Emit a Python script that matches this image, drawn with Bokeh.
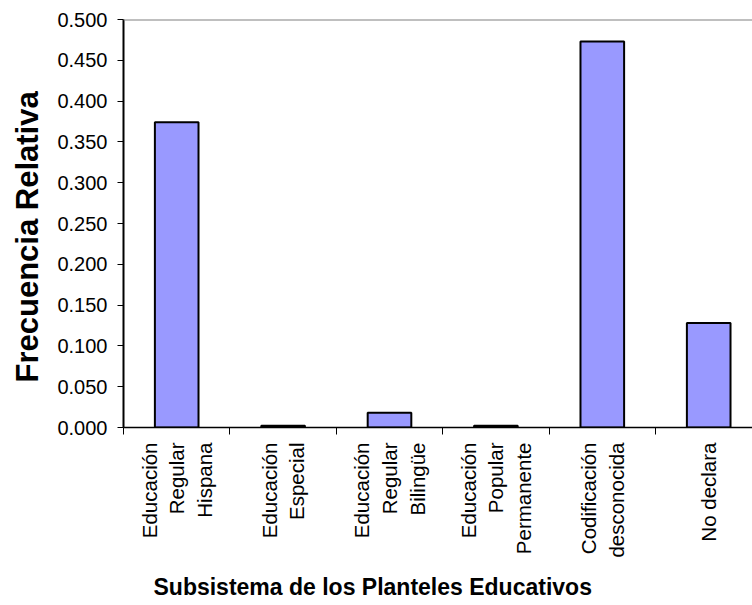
import math
from bokeh.plotting import figure
from bokeh.models import (ColumnDataSource, FixedTicker, NumeralTickFormatter,
                          Span, Title, Range1d, LinearAxis)
from bokeh.embed import file_html
from bokeh.resources import INLINE

# ---- data ----
categories = ["Educación\nRegular\nHispana", "Educación\nEspecial",
              "Educación\nRegular\nBilingüe", "Educación\nPopular\nPermanente",
              "Codificación\ndesconocida", "No declara"]
values = [0.374, 0.002, 0.018, 0.002, 0.473, 0.128]
y_ticks = [0.0, 0.05, 0.1, 0.15, 0.2, 0.25, 0.3, 0.35, 0.4, 0.45, 0.5]
y_label = "Frecuencia Relativa"
x_label = "Subsistema  de los Planteles Educativos"

positions = [i + 0.5 for i in range(len(categories))]
boundaries = [i for i in range(len(categories) + 1)]

W, H = 752, 605
frame_left, frame_top = 123, 19
frame_bottom = 427
slot_px = 106.4
y_max = 0.5
x_end = (W - frame_left) / slot_px

p = figure(width=W, height=H, output_backend="svg", toolbar_location=None,
           x_range=Range1d(0, x_end), y_range=Range1d(0, y_max),
           min_border_left=frame_left, min_border_right=0,
           min_border_top=frame_top, min_border_bottom=H - frame_bottom)
p.background_fill_color = "white"
p.border_fill_color = "white"
p.outline_line_color = None
p.grid.visible = False

src = ColumnDataSource(dict(x=positions, top=values))
p.vbar(x="x", top="top", width=0.41, bottom=0, source=src,
       fill_color="#9999FF", line_color="black", line_width=2)

p.add_layout(Span(location=y_max, dimension="width", line_color="#808080",
                  line_width=2))

font = "Liberation Sans"

# y axis
ya = p.yaxis[0]
ya.ticker = FixedTicker(ticks=y_ticks)
ya.formatter = NumeralTickFormatter(format="0.000")
ya.axis_line_color = "black"
ya.axis_line_width = 2
ya.major_tick_line_color = "black"
ya.major_tick_out = 6
ya.major_tick_in = 0
ya.minor_tick_line_color = None
ya.major_label_text_font = font
ya.major_label_text_font_size = "20px"
ya.major_label_text_color = "black"
ya.major_label_standoff = 10

# x axis
xa = p.xaxis[0]
xa.ticker = FixedTicker(ticks=positions, minor_ticks=boundaries)
xa.major_label_overrides = {pos: lab for pos, lab in zip(positions, categories)}
xa.major_label_orientation = math.pi / 2
xa.axis_line_color = "black"
xa.axis_line_width = 1.5
xa.major_tick_out = 0
xa.major_tick_in = 0
xa.minor_tick_line_color = "black"
xa.minor_tick_out = 7
xa.minor_tick_in = 0
xa.major_label_text_font = font
xa.major_label_text_font_size = "20.5px"
xa.major_label_text_color = "black"
xa.major_label_standoff = 8

# invisible spacer between the category labels and the x title
spacer = LinearAxis(ticker=FixedTicker(ticks=[positions[0]]),
                    major_label_overrides={positions[0]: ""},
                    axis_line_color=None, major_tick_line_color=None,
                    minor_tick_line_color=None, major_tick_out=11,
                    major_tick_in=0, minor_tick_out=0, minor_tick_in=0,
                    major_label_standoff=0)
p.add_layout(spacer, "below")

# axis titles
ytitle = Title(text=y_label, align="left", offset=45, vertical_align="top",
               standoff=16, text_font=font, text_font_size="31px",
               text_font_style="bold", text_color="black")
p.add_layout(ytitle, "left")
xtitle = Title(text=x_label, align="left", offset=30, standoff=0,
               text_font=font, text_font_size="23px", text_font_style="bold",
               text_color="black")
p.add_layout(xtitle, "below")

open("out.html", "w").write(file_html(p, INLINE))
